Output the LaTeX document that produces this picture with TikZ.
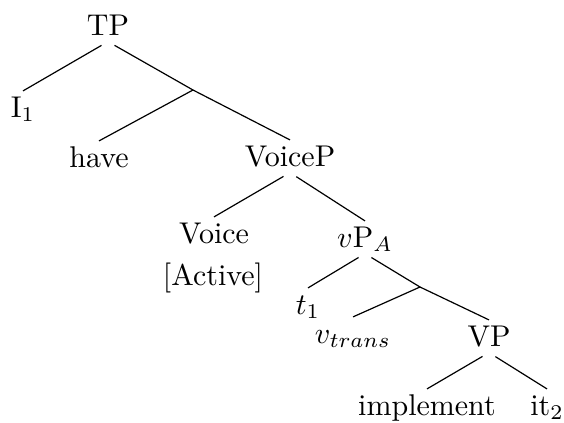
\documentclass[tikz,border=0pt]{standalone}

\begin{document}
\begin{tikzpicture}[x=0.3333pt,y=-0.3333pt,word/.style={anchor=base,inner sep=2pt,text height=6.5pt,text depth=0pt},branch/.style={shorten <=2.5pt}]
            \useasboundingbox (0,0) rectangle (564,422);
            \node[word] (tp) at (108,35) {TP};
            \node[word] (i1) at (23,117) {I$_1$};
            \coordinate (b1) at (193,90);
            \node[word] (have) at (99,167) {have};
            \node[word] (voicep) at (290,166) {VoiceP};
            \node[word] (voice) at (214,243) {Voice};
            \node[word] (active) at (213,285) {[Active]};
            \node[word] (vpa) at (365,247) {$v$P$_A$};
            \node[word] (t1) at (308,314) {$t_1$};
            \coordinate (b2) at (420,287);
            \node[word] (vtrans) at (353,343) {$v_{trans}$};
            \node[word] (vp) at (489,346) {VP};
            \node[word] (impl) at (427,415) {implement};
            \node[word] (it2) at (547,415) {it$_2$};

            \path
                (tp.south) edge[branch] (i1.north)
                (tp.south) edge[branch] (b1)
                (b1) edge (have.north)
                (b1) edge (voicep.north)
                (voicep.south) edge[branch] (voice.north)
                (voicep.south) edge[branch] (vpa.north)
                (vpa.south) edge[branch] (t1.north)
                (vpa.south) edge[branch] (b2)
                (b2) edge (vtrans.north)
                (b2) edge (vp.north)
                (vp.south) edge[branch] (impl.north)
                (vp.south) edge[branch] (it2.north)
                ;
        \end{tikzpicture}
\end{document}
